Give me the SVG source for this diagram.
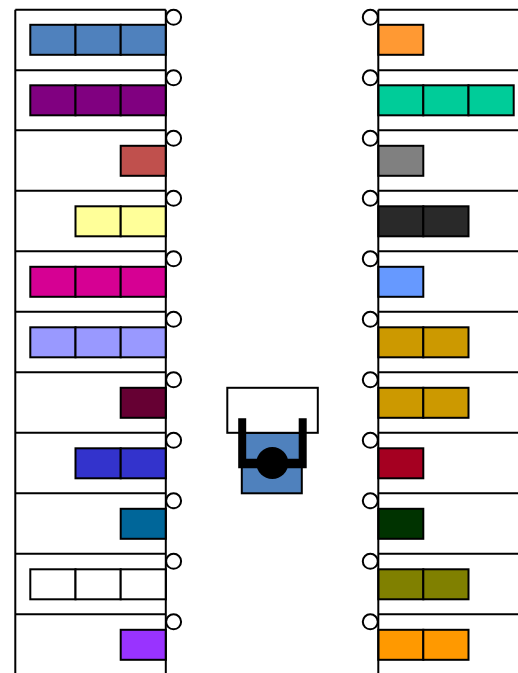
<svg xmlns="http://www.w3.org/2000/svg" width="518" height="673" viewBox="0 0 518 673">
<style>
.l{stroke:#000;stroke-width:2;fill:none}
.c{stroke:#000;stroke-width:2}
.o{stroke:#000;stroke-width:2;fill:#fff;r:7.5px}
</style>
<rect width="518" height="673" fill="#fff"/>
<g transform="translate(-0.2 -0.2)">
<g id="left-rack">
<g id="l1"><path class="l" d="M15.5 10H166"/><rect class="c" fill="#4F81BD" x="30.5" y="25" width="45.2" height="30"/><rect class="c" fill="#4F81BD" x="75.7" y="25" width="45.2" height="30"/><rect class="c" fill="#4F81BD" x="120.9" y="25" width="45.2" height="30"/></g>
<g id="l2"><path class="l" d="M15.5 70.5H166"/><rect class="c" fill="#800080" x="30.5" y="85.5" width="45.2" height="30"/><rect class="c" fill="#800080" x="75.7" y="85.5" width="45.2" height="30"/><rect class="c" fill="#800080" x="120.9" y="85.5" width="45.2" height="30"/></g>
<g id="l3"><path class="l" d="M15.5 130.5H166"/><rect class="c" fill="#C0504D" x="120.9" y="146" width="45.2" height="30"/></g>
<g id="l4"><path class="l" d="M15.5 191H166"/><rect class="c" fill="#FFFF99" x="75.7" y="206.5" width="45.2" height="30"/><rect class="c" fill="#FFFF99" x="120.9" y="206.5" width="45.2" height="30"/></g>
<g id="l5"><path class="l" d="M15.5 251.5H166"/><rect class="c" fill="#D60093" x="30.5" y="267" width="45.2" height="30"/><rect class="c" fill="#D60093" x="75.7" y="267" width="45.2" height="30"/><rect class="c" fill="#D60093" x="120.9" y="267" width="45.2" height="30"/></g>
<g id="l6"><path class="l" d="M15.5 312H166"/><rect class="c" fill="#9999FF" x="30.5" y="327.5" width="45.2" height="30"/><rect class="c" fill="#9999FF" x="75.7" y="327.5" width="45.2" height="30"/><rect class="c" fill="#9999FF" x="120.9" y="327.5" width="45.2" height="30"/></g>
<g id="l7"><path class="l" d="M15.5 372.5H166"/><rect class="c" fill="#660033" x="120.9" y="388" width="45.2" height="30"/></g>
<g id="l8"><path class="l" d="M15.5 433H166"/><rect class="c" fill="#3333CC" x="75.7" y="448.5" width="45.2" height="30"/><rect class="c" fill="#3333CC" x="120.9" y="448.5" width="45.2" height="30"/></g>
<g id="l9"><path class="l" d="M15.5 493.5H166"/><rect class="c" fill="#006699" x="120.9" y="509" width="45.2" height="30"/></g>
<g id="l10"><path class="l" d="M15.5 554H166"/><rect class="c" fill="#fff" x="30.5" y="569.5" width="45.2" height="30"/><rect class="c" fill="#fff" x="75.7" y="569.5" width="45.2" height="30"/><rect class="c" fill="#fff" x="120.9" y="569.5" width="45.2" height="30"/></g>
<g id="l11"><path class="l" d="M15.5 614.5H166"/><rect class="c" fill="#9933FF" x="120.9" y="630" width="45.2" height="30"/></g>
<path class="l" d="M15.5 10V674M166 10V674"/>
</g>
<g id="right-rack">
<g id="r1"><path class="l" d="M378.500 10H519"/><rect class="c" fill="#FF9933" x="378.5" y="25" width="45" height="30"/></g>
<g id="r2"><path class="l" d="M378.5 70.5H519"/><rect class="c" fill="#00CC99" x="378.5" y="85.5" width="45" height="30"/><rect class="c" fill="#00CC99" x="423.5" y="85.5" width="45.2" height="30"/><rect class="c" fill="#00CC99" x="468.7" y="85.5" width="45.2" height="30"/></g>
<g id="r3"><path class="l" d="M378.5 130.5H519"/><rect class="c" fill="#808080" x="378.5" y="146" width="45" height="30"/></g>
<g id="r4"><path class="l" d="M378.5 191H519"/><rect class="c" fill="#292929" x="378.5" y="206.5" width="45" height="30"/><rect class="c" fill="#292929" x="423.5" y="206.5" width="45.2" height="30"/></g>
<g id="r5"><path class="l" d="M378.5 251.5H519"/><rect class="c" fill="#6699FF" x="378.5" y="267" width="45" height="30"/></g>
<g id="r6"><path class="l" d="M378.5 312H519"/><rect class="c" fill="#CC9900" x="378.5" y="327.5" width="45" height="30"/><rect class="c" fill="#CC9900" x="423.5" y="327.5" width="45.2" height="30"/></g>
<g id="r7"><path class="l" d="M378.5 372.5H519"/><rect class="c" fill="#CC9900" x="378.5" y="388" width="45" height="30"/><rect class="c" fill="#CC9900" x="423.5" y="388" width="45.2" height="30"/></g>
<g id="r8"><path class="l" d="M378.5 433H519"/><rect class="c" fill="#A50021" x="378.5" y="448.5" width="45" height="30"/></g>
<g id="r9"><path class="l" d="M378.5 493.5H519"/><rect class="c" fill="#003300" x="378.5" y="509" width="45" height="30"/></g>
<g id="r10"><path class="l" d="M378.5 554H519"/><rect class="c" fill="#808000" x="378.5" y="569.5" width="45" height="30"/><rect class="c" fill="#808000" x="423.5" y="569.5" width="45.2" height="30"/></g>
<g id="r11"><path class="l" d="M378.5 614.5H519"/><rect class="c" fill="#FF9900" x="378.5" y="630" width="45" height="30"/><rect class="c" fill="#FF9900" x="423.5" y="630" width="45.2" height="30"/></g>
<path class="l" d="M378.5 10V674"/>
</g>
<g id="left-rings">
<circle class="o" cx="173.8" cy="17.5" r="7.5"/><circle class="o" cx="173.8" cy="78" r="7.5"/><circle class="o" cx="173.8" cy="138.5" r="7.5"/><circle class="o" cx="173.8" cy="198.5" r="7.5"/><circle class="o" cx="173.8" cy="259" r="7.5"/><circle class="o" cx="173.8" cy="319.5" r="7.5"/><circle class="o" cx="173.8" cy="380" r="7.5"/><circle class="o" cx="173.8" cy="440.5" r="7.5"/><circle class="o" cx="173.8" cy="501" r="7.5"/><circle class="o" cx="173.8" cy="561.5" r="7.5"/><circle class="o" cx="173.8" cy="622" r="7.5"/>
</g>
<g id="right-rings">
<circle class="o" cx="370.5" cy="17.5" r="7.5"/><circle class="o" cx="370.5" cy="78" r="7.5"/><circle class="o" cx="370.5" cy="138.5" r="7.5"/><circle class="o" cx="370.5" cy="198.5" r="7.5"/><circle class="o" cx="370.5" cy="259" r="7.5"/><circle class="o" cx="370.5" cy="319.5" r="7.5"/><circle class="o" cx="370.5" cy="380" r="7.5"/><circle class="o" cx="370.5" cy="440.5" r="7.5"/><circle class="o" cx="370.5" cy="501" r="7.5"/><circle class="o" cx="370.5" cy="561.5" r="7.5"/><circle class="o" cx="370.5" cy="622" r="7.5"/>
</g>
<g id="robot">
<rect class="c" fill="#4F81BD" x="242" y="433" width="60" height="60.5"/>
<rect class="c" fill="#fff" x="227.5" y="388" width="90.5" height="45"/>
<path fill="#000" d="M238.400 418.400H246.400V458.900H298.900V418.400H306.900V468.400H238.400Z"/>
<circle fill="#000" cx="272.500" cy="463.200" r="16"/>
</g>
</g>
</svg>
